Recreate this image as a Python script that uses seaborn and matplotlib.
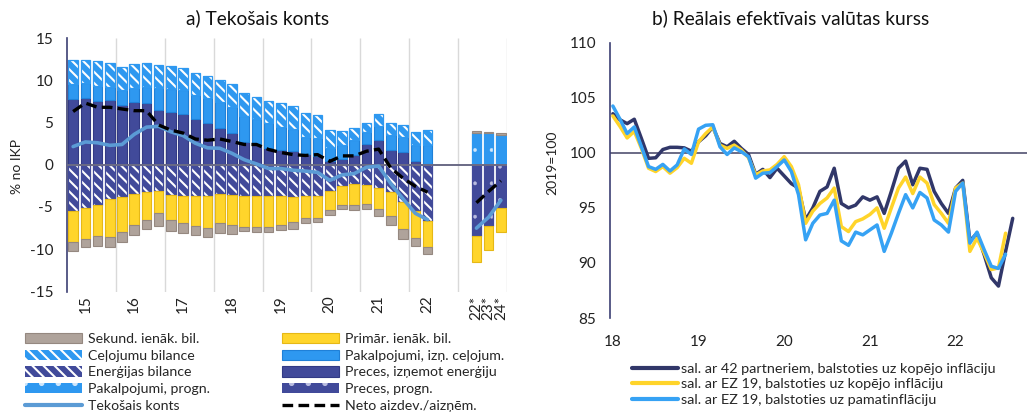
import numpy as np
import pandas as pd
import matplotlib
matplotlib.use("Agg")
import matplotlib.pyplot as plt
from matplotlib.patches import Patch
from matplotlib.lines import Line2D
import seaborn as sns

# ---------------- a) Current account, % of GDP (2015Q1 - 2022Q2) ----------------
year_labels = ["15", "16", "17", "18", "19", "20", "21", "22"]
forecast_labels = ["22*", "23*", "24*"]

goods_ex_energy = [7.8, 7.9, 7.5, 7.7, 7.1, 7.4, 7.3, 6.45, 6.25, 6.0, 5.4, 5.0, 4.4, 3.75, 2.7,
                   2.45, 1.95, 1.7, 1.65, 1.3, 1.0, 0.4, 0.65, 1.2, 2.45, 2.95, 1.8, 1.45, 0.4, 0.1]
services_ex_travel = [1.8, 1.75, 1.85, 1.5, 1.75, 1.7, 1.95, 2.6, 2.7, 2.8, 2.8, 2.9, 3.05, 3.05, 3.05,
                      2.95, 3.0, 2.75, 2.55, 1.95, 2.15, 1.55, 1.65, 1.75, 1.4, 1.65, 1.7, 1.8, 1.9, 2.2]
travel_balance = [2.75, 2.8, 2.9, 2.85, 2.7, 2.8, 2.75, 2.7, 2.75, 2.7, 2.65, 2.65, 2.55, 2.7, 2.7,
                  2.6, 2.6, 2.8, 2.75, 2.85, 2.75, 2.2, 1.75, 1.35, 1.1, 1.35, 1.4, 1.45, 1.6, 1.8]
energy_balance = [-5.45, -5.1, -4.75, -4.1, -3.85, -3.45, -3.25, -3.15, -3.6, -3.65, -3.65, -3.65, -3.45,
                  -3.55, -3.65, -3.75, -3.75, -3.75, -3.85, -3.75, -3.65, -3.1, -2.55, -2.3, -2.35, -2.7,
                  -3.25, -4.35, -5.5, -6.7]
primary_income = [-3.7, -3.65, -3.65, -4.5, -4.15, -3.65, -3.25, -2.55, -2.9, -3.3, -3.55, -3.85, -3.5,
                  -3.55, -3.75, -3.65, -3.65, -3.35, -2.95, -2.5, -2.65, -2.25, -2.2, -2.45, -2.25, -2.55,
                  -2.85, -3.25, -3.15, -3.05]
secondary_income = [-1.05, -1.0, -1.25, -1.15, -1.15, -1.2, -1.05, -1.5, -1.3, -1.1, -1.1, -1.05, -1.1,
                    -1.05, -0.45, -0.5, -0.6, -0.6, -0.8, -0.6, -0.5, -0.65, -0.5, -0.6, -0.65, -0.85,
                    -1.05, -1.15, -1.0, -0.85]
current_account = [2.15, 2.7, 2.6, 2.3, 2.4, 3.6, 4.45, 4.55, 3.9, 3.45, 2.55, 2.0, 1.95, 1.35, 0.6,
                   0.1, -0.45, -0.45, -0.65, -0.75, -0.9, -1.85, -1.2, -1.05, -0.3, -0.15, -2.25, -4.05,
                   -5.75, -6.5]
net_lending = [6.3, 7.3, 6.8, 6.8, 6.6, 6.4, 6.4, 4.7, 4.1, 3.75, 3.05, 2.9, 3.05, 2.75, 2.4,
               2.4, 1.8, 1.45, 1.2, 1.1, 1.2, 0.4, 1.05, 1.05, 1.6, 1.85, -0.4, -1.6, -2.55, -3.25]

# projections for 2022-2024
services_fc = [3.8, 3.7, 3.5]
secondary_fc = [0.2, 0.2, 0.2]
goods_fc = [-8.4, -7.3, -5.1]
primary_fc = [-3.1, -2.8, -2.8]
current_account_fc = [-7.5, -6.2, -4.2]
net_lending_fc = [-4.5, -3.15, -1.9]

# ---------------- b) Real effective exchange rate, 2019=100 (monthly from Jan 2018) ----------------
reer_42_total = [103.55, 103.0, 102.65, 103.05, 101.3, 99.5, 99.55, 100.3, 100.5, 100.5, 100.45, 100.15,
                 101.0, 101.55, 102.35, 100.85, 100.55, 101.05, 100.4, 99.85, 98.05, 98.5, 97.75, 98.6,
                 97.9, 97.2, 96.8, 93.9, 95.0, 96.5, 96.9, 98.6, 95.4, 95.0, 95.25, 96.0, 95.7, 96.0,
                 94.5, 96.5, 98.6, 99.25, 97.1, 98.6, 98.5, 96.5, 95.4, 94.5, 96.8, 97.5, 92.0, 92.7,
                 90.75, 88.65, 87.9, 91.05, 94.05]
reer_ez19_total = [103.35, 102.4, 101.35, 101.95, 100.4, 98.6, 98.3, 98.75, 98.15, 98.65, 99.5, 99.05,
                   101.0, 101.75, 102.35, 100.7, 100.4, 100.7, 100.25, 99.55, 98.0, 98.35, 98.45, 98.95,
                   99.65, 98.75, 97.1, 93.6, 94.7, 95.4, 95.9, 96.8, 93.3, 92.85, 93.75, 94.0, 94.4, 95.0,
                   93.15, 95.0, 96.8, 97.8, 96.3, 97.8, 97.25, 95.3, 94.5, 93.6, 96.8, 97.25, 91.05, 92.25,
                   90.9, 89.4, 89.55, 92.7]
reer_ez19_core = [104.25, 103.05, 101.75, 102.35, 100.55, 98.75, 98.5, 98.95, 98.35, 98.9, 100.35, 99.85,
                  102.15, 102.5, 102.55, 100.55, 99.85, 100.45, 100.1, 99.65, 97.7, 98.15, 98.2, 98.75,
                  99.35, 98.3, 96.2, 92.1, 93.6, 94.35, 94.5, 95.7, 92.0, 91.6, 92.8, 92.55, 93.0, 93.45,
                  91.05, 92.7, 94.5, 96.2, 95.0, 96.4, 95.9, 93.9, 93.45, 92.8, 96.5, 97.25, 91.8, 92.8,
                  91.2, 89.7, 89.5, 90.8]
reer_year_labels = ["18", "19", "20", "21", "22"]
reer_names = ["sal. ar 42 partneriem, balstoties uz kopējo inflāciju",
              "sal. ar EZ 19, balstoties uz kopējo inflāciju",
              "sal. ar EZ 19, balstoties uz pamatinflāciju"]

# ---------------- styling ----------------
sns.set_theme(style="white")
plt.rcParams["font.family"] = ["Lato", "DejaVu Sans"]
plt.rcParams["axes.unicode_minus"] = False
plt.rcParams["hatch.linewidth"] = 1.5

C_SEC = "#AFA39B"
C_SEC_E = "#958880"
C_PRIM = "#FFD52B"
C_PRIM_E = "#E6B816"
C_SERV = "#2E98F0"
C_SERV_E = "#1F80D8"
C_GOODS = "#414A9A"
C_GOODS_E = "#323A85"
C_CA = "#5B9BD5"
C_AXIS = "#3C3F73"
C_ZERO = "#6A6A85"

R_NAVY = "#313769"
R_YELLOW = "#FFD42A"
R_BLUE = "#36A2F4"

HATCH = "\\\\\\"
DOTS = "."
W = 0.78

fig = plt.figure(figsize=(10.29, 4.12), dpi=100)
ax1 = fig.add_axes([67 / 1029, 1 - 291.5 / 412, 440 / 1029, (291.5 - 38) / 412])
ax2 = fig.add_axes([610 / 1029, 1 - 318 / 412, 417 / 1029, (318 - 42.7) / 412])

# ---------------- panel a ----------------
x_hist = np.arange(len(goods_ex_energy))
x_fc = np.arange(33, 36)

g = np.array(goods_ex_energy)
s = np.array(services_ex_travel)
t = np.array(travel_balance)
e = np.array(energy_balance)
p = np.array(primary_income)
sc = np.array(secondary_income)


def solid(ax, x, h, b, fc, ec):
    ax.bar(x, h, bottom=b, width=W, color=fc, edgecolor=ec, linewidth=0.8, zorder=2)


def patterned(ax, x, h, b, fc, hatch, hatch_lw=1.5, hatch_col="white"):
    with plt.rc_context({"hatch.linewidth": hatch_lw}):
        ax.bar(x, h, bottom=b, width=W, color=fc, edgecolor=hatch_col, linewidth=0, hatch=hatch,
               zorder=2)
    ax.bar(x, h, bottom=b, width=W, fill=False, edgecolor=fc, linewidth=0.9, zorder=2)


# positive stack
solid(ax1, x_hist, g, 0, C_GOODS, C_GOODS_E)
solid(ax1, x_hist, s, g, C_SERV, C_SERV_E)
patterned(ax1, x_hist, t, g + s, C_SERV, HATCH)
# negative stack
patterned(ax1, x_hist, e, 0, C_GOODS, HATCH)
solid(ax1, x_hist, p, e, C_PRIM, C_PRIM_E)
solid(ax1, x_hist, sc, e + p, C_SEC, C_SEC_E)

# projections
sf = np.array(services_fc)
gf = np.array(goods_fc)
patterned(ax1, x_fc, sf, 0, C_SERV, DOTS, hatch_lw=0.3, hatch_col="#CFE6FB")
solid(ax1, x_fc, secondary_fc, sf, C_SEC, C_SEC_E)
patterned(ax1, x_fc, gf, 0, C_GOODS, DOTS, hatch_lw=0.3, hatch_col="#B9BCE0")
solid(ax1, x_fc, primary_fc, gf, C_PRIM, C_PRIM_E)

dash = (0, (3.2, 1.6))
ax1.plot(x_hist, current_account, color=C_CA, lw=2.6, solid_capstyle="round", zorder=4)
ax1.plot(x_fc, current_account_fc, color=C_CA, lw=2.6, solid_capstyle="round", zorder=4)
ax1.plot(x_hist, net_lending, color="black", lw=2.4, linestyle=dash, zorder=5)
ax1.plot(x_fc, net_lending_fc, color="black", lw=2.4, linestyle=dash, zorder=5)

ax1.axhline(0, color=C_ZERO, lw=1.4, zorder=3)
ax1.vlines(np.arange(3.5, 36, 4), -15, 15, color="#D9D9D9", lw=1.0, zorder=0)

ax1.set_xlim(-0.5, 35.5)
ax1.set_ylim(-15, 15)
ax1.set_yticks(np.arange(-15, 16, 5))
ax1.set_yticklabels([str(v) for v in range(-15, 16, 5)])
ax1.set_xticks(list(np.arange(1, 32, 4)) + list(x_fc))
ax1.set_xticklabels(year_labels + forecast_labels, rotation=90)
ax1.tick_params(axis="y", length=0, pad=10, labelsize=11, colors="#222222")
ax1.tick_params(axis="x", length=0, pad=3, labelsize=11, colors="#222222")
for side in ["top", "right", "bottom"]:
    ax1.spines[side].set_visible(False)
ax1.spines["left"].set_color(C_AXIS)
ax1.spines["left"].set_linewidth(1.2)
ax1.grid(False)

# ---------------- panel b ----------------
frames = []
for name, vals in zip(reer_names, [reer_42_total, reer_ez19_total, reer_ez19_core]):
    frames.append(pd.DataFrame({"month": np.arange(len(vals)), "value": vals, "series": name}))
reer = pd.concat(frames, ignore_index=True)

sns.lineplot(data=reer, x="month", y="value", hue="series", hue_order=reer_names,
             palette=[R_NAVY, R_YELLOW, R_BLUE], linewidth=2.5, ax=ax2, legend=False)
ax2.axhline(100, color=C_ZERO, lw=1.4, zorder=0)
ax2.set_xlim(-0.4, 58)
ax2.set_ylim(85, 110)
ax2.set_yticks(np.arange(85, 111, 5))
ax2.set_xticks(np.arange(0, 60, 12))
ax2.set_xticklabels(reer_year_labels)
ax2.set_xlabel("")
ax2.set_ylabel("")
ax2.tick_params(axis="y", length=0, pad=10, labelsize=11, colors="#222222")
ax2.tick_params(axis="x", length=0, pad=12, labelsize=11, colors="#222222")
for side in ["top", "right", "bottom"]:
    ax2.spines[side].set_visible(False)
ax2.spines["left"].set_color(C_AXIS)
ax2.spines["left"].set_linewidth(1.2)
ax2.grid(False)

# ---------------- titles and axis names ----------------
fig.text(258 / 1029, 1 - 18 / 412, "a) Tekošais konts", ha="center", va="center", fontsize=13.8,
         color="#111111")
fig.text(791 / 1029, 1 - 18 / 412, "b) Reālais efektīvais valūtas kurss", ha="center", va="center",
         fontsize=13.8, color="#111111")
fig.text(17 / 1029, 1 - 167 / 412, "% no IKP", rotation=90, ha="center", va="center", fontsize=10,
         color="#222222")
fig.text(552 / 1029, 1 - 163 / 412, "2019=100", rotation=90, ha="center", va="center", fontsize=10,
         color="#222222")

# ---------------- legends ----------------
col1 = [
    (Patch(facecolor=C_SEC, edgecolor=C_SEC_E, linewidth=0.8), "Sekund. ienāk. bil."),
    (Patch(facecolor=C_SERV, edgecolor="white", linewidth=0, hatch=HATCH), "Ceļojumu bilance"),
    (Patch(facecolor=C_GOODS, edgecolor="white", linewidth=0, hatch=HATCH), "Enerģijas bilance"),
]
with plt.rc_context({"hatch.linewidth": 0.3}):
    col1.append((Patch(facecolor=C_SERV, edgecolor="#CFE6FB", linewidth=0, hatch=DOTS),
                 "Pakalpojumi, progn."))
    goods_fc_patch = Patch(facecolor=C_GOODS, edgecolor="#B9BCE0", linewidth=0, hatch=DOTS)
col1.append((Line2D([], [], color=C_CA, lw=3), "Tekošais konts"))
col2 = [
    (Patch(facecolor=C_PRIM, edgecolor=C_PRIM_E, linewidth=0.8), "Primār. ienāk. bil."),
    (Patch(facecolor=C_SERV, edgecolor=C_SERV_E, linewidth=0.8), "Pakalpojumi, izņ. ceļojum."),
    (Patch(facecolor=C_GOODS, edgecolor=C_GOODS_E, linewidth=0.8), "Preces, izņemot enerģiju"),
    (goods_fc_patch, "Preces, progn."),
    (Line2D([], [], color="black", lw=2.4, linestyle=dash), "Neto aizdev./aizņēm."),
]
common = dict(loc="upper left", frameon=False, fontsize=10.2, handlelength=4.0, handleheight=0.75,
              handletextpad=0.45, labelspacing=0.32, borderpad=0, borderaxespad=0)
for items, x0 in [(col1, 25), (col2, 282)]:
    fig.legend([h for h, _ in items], [l for _, l in items],
               bbox_to_anchor=(x0 / 1029, 1 - 333 / 412), **common)

rhandles = [Line2D([], [], color=c, lw=3) for c in [R_NAVY, R_YELLOW, R_BLUE]]
fig.legend(rhandles, reer_names, loc="upper left", frameon=False, fontsize=10.4, handlelength=3.2,
           handletextpad=0.2, labelspacing=0.22, borderpad=0, borderaxespad=0,
           bbox_to_anchor=(632 / 1029, 1 - 363 / 412))

fig.savefig("out.png", dpi=100)
